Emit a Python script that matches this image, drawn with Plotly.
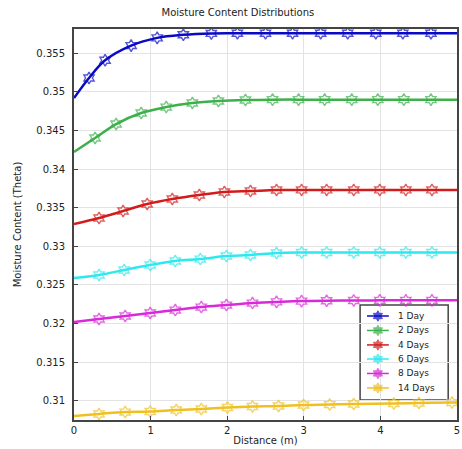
import plotly.graph_objects as go

# ---- data ----
x_1day = [0, 0.196, 0.406, 0.746, 1.086, 1.427, 1.793, 2.133, 2.5, 2.853, 3.22, 3.573, 3.94, 4.293, 4.66, 5]
y_1day = [0.3492, 0.3518, 0.3541, 0.3560, 0.3570, 0.3574, 0.35758, 0.3576, 0.3576, 0.3576, 0.3576, 0.3576, 0.3576, 0.3576, 0.3576, 0.3576]

x_2days = [0, 0.275, 0.55, 0.877, 1.204, 1.545, 1.885, 2.238, 2.592, 2.932, 3.272, 3.626, 3.966, 4.306, 4.66, 5]
y_2days = [0.34222, 0.34403, 0.34584, 0.34727, 0.34804, 0.34856, 0.34882, 0.34895, 0.349, 0.349, 0.349, 0.349, 0.349, 0.349, 0.349, 0.349]

x_4days = [0, 0.327, 0.641, 0.955, 1.283, 1.636, 1.963, 2.304, 2.644, 2.971, 3.298, 3.652, 3.992, 4.332, 4.673, 5]
y_4days = [0.33289, 0.33367, 0.33457, 0.33548, 0.33613, 0.33665, 0.33703, 0.33716, 0.33729, 0.3373, 0.3373, 0.3373, 0.3373, 0.3373, 0.3373, 0.3373]

x_6days = [0, 0.327, 0.655, 0.995, 1.322, 1.649, 1.99, 2.304, 2.644, 2.971, 3.298, 3.652, 3.992, 4.332, 4.673, 5]
y_6days = [0.32589, 0.32628, 0.32693, 0.32758, 0.3281, 0.32835, 0.32874, 0.32887, 0.32913, 0.3292, 0.3292, 0.3292, 0.3292, 0.3292, 0.3292, 0.3292]

x_8days = [0, 0.327, 0.668, 0.995, 1.322, 1.662, 1.99, 2.33, 2.644, 2.971, 3.298, 3.652, 3.992, 4.332, 4.673, 5]
y_8days = [0.32019, 0.32058, 0.32097, 0.32136, 0.32174, 0.32213, 0.32239, 0.32265, 0.3228, 0.3229, 0.32295, 0.32298, 0.323, 0.323, 0.323, 0.323]

x_14days = [0, 0.327, 0.668, 0.995, 1.335, 1.662, 2.003, 2.33, 2.67, 2.997, 3.338, 3.652, 4.175, 4.503, 4.935, 5]
y_14days = [0.30802, 0.30828, 0.30853, 0.3086, 0.30879, 0.30892, 0.30912, 0.30925, 0.30931, 0.30944, 0.3095, 0.30957, 0.30963, 0.3097, 0.30976, 0.30977]

series_names = ["1 Day", "2 Days", "4 Days", "6 Days", "8 Days", "14 Days"]
series_x = [x_1day, x_2days, x_4days, x_6days, x_8days, x_14days]
series_y = [y_1day, y_2days, y_4days, y_6days, y_8days, y_14days]
colors = ["#0a0ac4", "#3cb04a", "#d01c1c", "#2ee8ee", "#d82ad8", "#f0c020"]

y_ticks = [0.31, 0.315, 0.32, 0.325, 0.33, 0.335, 0.34, 0.345, 0.35, 0.355]
y_tick_text = ["0.31", "0.315", "0.32", "0.325", "0.33", "0.335", "0.34", "0.345", "0.35", "0.355"]

FONT = "DejaVu Sans"
fig = go.Figure()
for name, xs, ys, c in zip(series_names, series_x, series_y, colors):
    sizes = [0] + [9] * (len(xs) - 2) + [0]
    fig.add_trace(go.Scatter(
        x=xs, y=ys, name=name, mode="lines+markers", showlegend=False,
        line=dict(color=c, width=2.5, shape="spline"),
        marker=dict(symbol="hexagram-open", size=sizes, color=c, line=dict(width=1.4, color=c)),
    ))

# ---- custom compact legend (paper-fraction overlay axes) ----
leg_x0, leg_x1, leg_ytop, leg_ybot = 0.747, 0.977, 0.294, 0.051
row_y = [0.266, 0.229, 0.192, 0.156, 0.119, 0.082]
samp_x0, samp_x1, samp_xm, text_x = 0.765, 0.822, 0.7935, 0.84
fig.add_shape(type="rect", xref="paper", yref="paper", x0=leg_x0, x1=leg_x1, y0=leg_ybot, y1=leg_ytop,
              fillcolor="white", line=dict(color="#444444", width=1.5), layer="between")
for name, c, ry in zip(series_names, colors, row_y):
    fig.add_trace(go.Scatter(
        x=[samp_x0, samp_xm, samp_x1], y=[ry, ry, ry], xaxis="x2", yaxis="y2",
        mode="lines+markers", showlegend=False, hoverinfo="skip",
        line=dict(color=c, width=1.5),
        marker=dict(symbol="hexagram", size=[0, 8, 0], color=c, line=dict(width=1, color=c)),
    ))
    fig.add_annotation(xref="paper", yref="paper", x=text_x, y=ry, text=name, showarrow=False,
                       xanchor="left", yanchor="middle", font=dict(family=FONT, size=9, color="#222222"))

axis_common = dict(
    showline=True, linecolor="#444444", linewidth=2, mirror=True,
    showgrid=True, gridcolor="#e3e3e3", gridwidth=1,
    ticks="inside", ticklen=4, tickcolor="#444444",
    tickfont=dict(family=FONT, size=10, color="#222222"),
    zeroline=False, automargin=False, ticklabeloverflow="allow",
)

fig.update_layout(
    width=462, height=449,
    margin=dict(l=74, r=5, t=29, b=29),
    paper_bgcolor="white", plot_bgcolor="white",
    title=dict(text="Moisture Content Distributions", x=0.515, xanchor="center",
               yref="container", y=1 - 12.5 / 449, yanchor="middle",
               font=dict(family=FONT, size=10, color="#222222")),
    xaxis=dict(range=[0, 5], dtick=1, title=dict(text="Distance (m)", standoff=2,
               font=dict(family=FONT, size=10, color="#222222")), **axis_common),
    yaxis=dict(range=[0.3075, 0.35815], tickvals=y_ticks, ticktext=y_tick_text, ticklabelstandoff=5,
               title=dict(text="Moisture Content (Theta)", standoff=13,
                          font=dict(family=FONT, size=10, color="#222222")), **axis_common),
    xaxis2=dict(overlaying="x", range=[0, 1], visible=False, fixedrange=True),
    yaxis2=dict(overlaying="y", range=[0, 1], visible=False, fixedrange=True),
    showlegend=False,
)

# remove the browser's default 8px body margin so the figure fills the window exactly
fig.write_html("out.html", config={"displayModeBar": False},
               post_script="document.body.style.margin='0px';")
